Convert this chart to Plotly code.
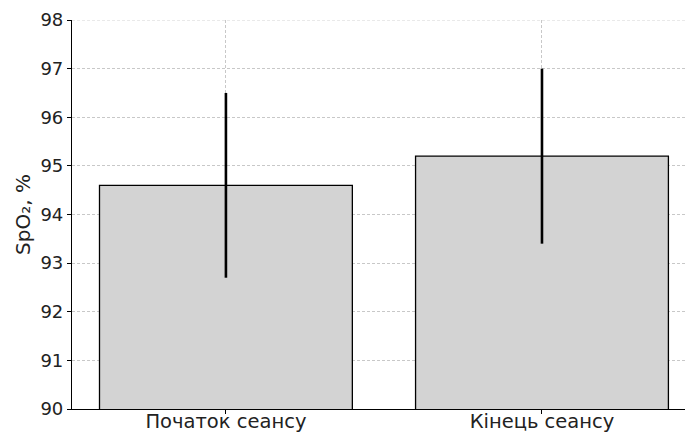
import plotly.graph_objects as go

# SpO2 at the start and end of the session (mean ± SD)
categories = ["Початок сеансу", "Кінець сеансу"]
means = [94.6, 95.2]
sds = [1.9, 1.8]
y_ticks = [90, 91, 92, 93, 94, 95, 96, 97, 98]

GRID = "#c8c8c8"
DASH = "3px,2px"

fig = go.Figure()
fig.add_trace(go.Bar(
    x=[0, 1],
    y=means,
    width=0.8,
    marker=dict(color="#d3d3d3", line=dict(color="black", width=1.3)),
    error_y=dict(type="data", array=sds, visible=True,
                 color="black", thickness=2.6, width=0),
    showlegend=False,
))

# top grid line at the upper limit of the y range
fig.add_shape(type="line", xref="paper", yref="y", x0=0, x1=1, y0=98, y1=98,
              line=dict(color=GRID, width=0.8, dash=DASH), layer="above")

fig.update_layout(
    width=685, height=434,
    margin=dict(l=72, r=0, t=20, b=25),
    plot_bgcolor="white", paper_bgcolor="white",
    font=dict(family="DejaVu Sans", size=18, color="#222"),
    bargap=0.2,
)
fig.update_xaxes(
    range=[-0.487, 1.4525],
    tickvals=[0, 1], ticktext=categories,
    showgrid=True, gridcolor=GRID, griddash=DASH, gridwidth=0.8,
    showline=True, linecolor="black", linewidth=1.2,
    ticks="outside", ticklen=4, tickcolor="black",
    ticklabelstandoff=-10,
    layer="above traces", zeroline=False, automargin=False,
    tickfont=dict(size=19.5),
)
fig.update_yaxes(
    range=[90, 98],
    tickvals=y_ticks,
    showgrid=True, gridcolor=GRID, griddash=DASH, gridwidth=0.8,
    showline=True, linecolor="black", linewidth=1.2,
    ticks="outside", ticklen=4, tickcolor="black",
    layer="above traces", zeroline=False, automargin=False,
    tickfont=dict(size=18),
    title=dict(text="SpO₂, %", font=dict(size=20), standoff=4),
)

fig.write_html("out.html")
